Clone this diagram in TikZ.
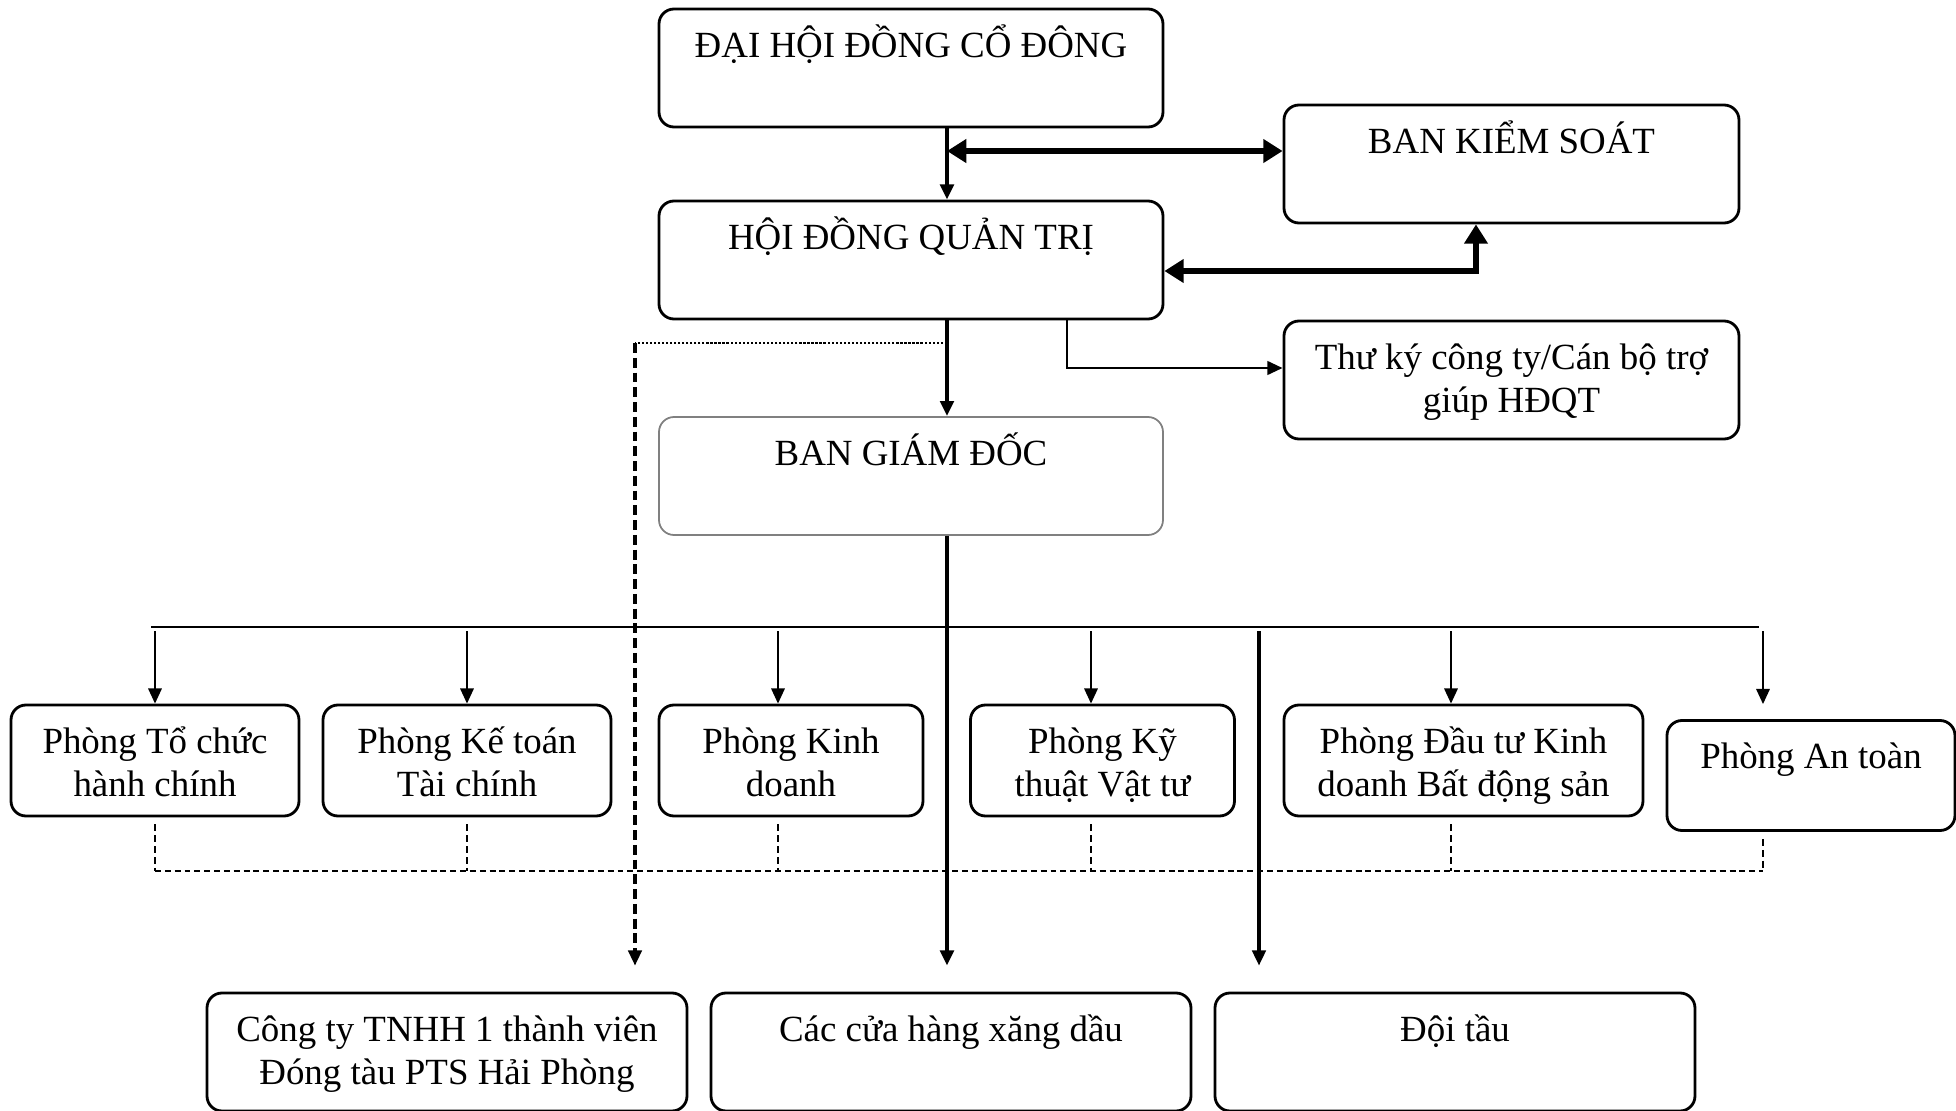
\documentclass[tikz,border=0pt]{standalone}
\usepackage{fontspec}
\setmainfont{Liberation Serif}
\usetikzlibrary{arrows.meta}

\begin{document}
\begin{tikzpicture}[x=1cm, y=1cm, >={Triangle[length=4.3pt,width=3.8pt]},
                    every node/.style={font=\fontsize{10.5}{12.2}\selectfont},
                    khung/.style={draw, line width=0.8pt, rounded corners=0.15cm,
                                  inner xsep=2pt, inner ysep=0pt, align=center,
                                  text height=0.48cm, text depth=0.70cm},
                    haidong/.style={khung, text height=0.91cm, text depth=0.27cm},
                    phong/.style={khung, text height=0.91cm, text depth=0.20cm},
                    day/.style={line width=0.6pt},
                    dayday/.style={line width=1.1pt},
                    muiday/.style={line width=1.9pt, >={Triangle[length=5.5pt,width=6.5pt]}, <->},
                    netdut/.style={dash pattern=on 2.8pt off 1.4pt}]

  \useasboundingbox (0,0) rectangle (19.56,11.10);
  \clip (0,0) rectangle (19.56,11.10);

  %% các cấp lãnh đạo
  \node[khung, minimum width=5.04cm] (dhcd) at (9.11,10.42) {ĐẠI HỘI ĐỒNG CỔ ĐÔNG};
  \node[khung, minimum width=4.55cm] (bks)  at (15.115,9.46) {BAN KIỂM SOÁT};
  \node[khung, minimum width=5.04cm] (hdqt) at (9.11,8.50) {HỘI ĐỒNG QUẢN TRỊ};
  \node[haidong, minimum width=4.55cm] (thuky) at (15.115,7.30)
    {Thư ký công ty/Cán bộ trợ\\giúp HĐQT};
  \node[khung, minimum width=5.04cm, draw=black!50, line width=0.5pt] (bgd) at (9.11,6.34)
    {BAN GIÁM ĐỐC};

  %% các phòng ban
  \node[phong, minimum width=2.88cm] (ptc) at (1.55,3.495)   {Phòng Tổ chức\\hành chính};
  \node[phong, minimum width=2.88cm] (pkt) at (4.67,3.495)   {Phòng Kế toán\\Tài chính};
  \node[phong, minimum width=2.64cm] (pkd) at (7.91,3.495)   {Phòng Kinh\\doanh};
  \node[phong, minimum width=2.64cm] (pkv) at (11.025,3.495) {Phòng Kỹ\\thuật Vật tư};
  \node[phong, minimum width=3.59cm] (pdt) at (14.635,3.495) {Phòng Đầu tư Kinh\\doanh Bất động sản};
  \node[khung, text depth=0.62cm, minimum width=2.88cm] (pat) at (18.11,3.345) {Phòng An toàn};

  %% các đơn vị trực thuộc
  \node[haidong, minimum width=4.80cm] (cty) at (4.47,0.58)
    {Công ty TNHH 1 thành viên\\Đóng tàu PTS Hải Phòng};
  \node[khung, minimum width=4.80cm] (cuahang) at (9.51,0.58)  {Các cửa hàng xăng dầu};
  \node[khung, minimum width=4.80cm] (doitau)  at (14.55,0.58) {Đội tầu};

  %% trục dọc chính
  \coordinate (truc) at (9.47,0);
  \draw[dayday, ->] (truc |- dhcd.south) -- (truc |- hdqt.north);
  \draw[dayday, ->] (truc |- hdqt.south) -- (truc |- bgd.north);
  \draw[dayday, line width=1.15pt, ->] (truc |- bgd.south) -- ([yshift=0.26cm]truc |- cuahang.north);

  %% quan hệ hai chiều với Ban kiểm soát
  \coordinate (ks) at (9.47,9.59);
  \draw[muiday] (ks) -- (bks.west |- ks);
  \coordinate (gs) at (14.76,8.39);
  \draw[muiday] (hdqt.east |- gs) -- (gs) -- (gs |- bks.south);

  %% HĐQT -> thư ký
  \coordinate (tk) at (10.67,7.42);
  \draw[day, line width=0.8pt, ->] (tk |- hdqt.south) -- (tk) -- (thuky.west |- tk);

  %% HĐQT ... công ty con
  \coordinate (cn) at (6.35,7.67);
  \draw[line width=0.8pt, dash pattern=on 0.65pt off 0.5pt] (truc |- cn) -- (cn);
  \draw[line width=0.9pt, netdut, ->] (cn) -- ([yshift=0.26cm]cn |- cty.north);

  %% thanh ngang và các mũi tên xuống phòng ban
  \coordinate (thanh) at (1.51,4.83);
  \draw[day, line width=0.7pt] (thanh) -- (17.59,4.83);
  \foreach \p/\x in {ptc/1.55, pkt/4.67, pkd/7.78, pkv/10.91, pdt/14.51}
    \draw[day, ->] (\x,4.79) -- (\x,0 |- \p.north);
  \draw[day, ->] (17.63,4.79) -- ([yshift=0.15cm]17.63,0 |- pat.north);
  \draw[line width=0.95pt, ->] (12.59,4.79) -- ([yshift=0.26cm]12.59,0 |- doitau.north);

  %% đường nét đứt nối các phòng
  \draw[line width=0.5pt, dash pattern=on 1.7pt off 1.1pt] (1.55,2.39) -- (17.63,2.39);
  \foreach \p/\x in {ptc/1.55, pkt/4.67, pkd/7.78, pkv/10.91, pdt/14.51, pat/17.63}
    \draw[line width=0.5pt, dash pattern=on 2pt off 1.1pt] ([yshift=-0.07cm]\x,0 |- \p.south) -- (\x,2.39);

\end{tikzpicture}
\end{document}
